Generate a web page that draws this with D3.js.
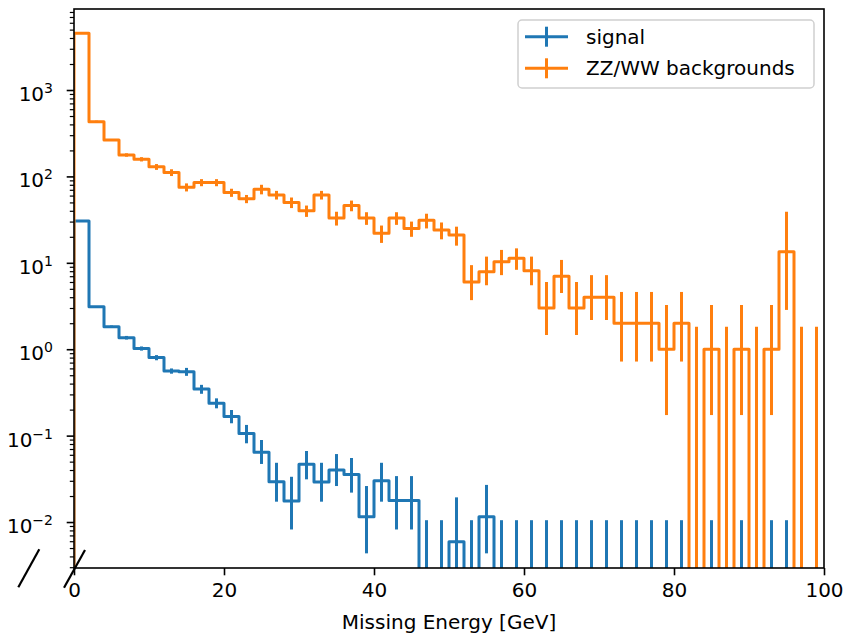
<!DOCTYPE html>
<html><head><meta charset="utf-8">
<script src="https://cdn.jsdelivr.net/npm/d3@7"></script>
<style>body{margin:0;background:#fff} text{font-family:"DejaVu Sans",sans-serif;fill:#000}</style>
</head><body><svg id="c" width="846" height="636"></svg>
<script>
// ---- data ----
const binEdges = [0,2,4,6,8,10,12,14,16,18,20,22,24,26,28,30,32,34,36,38,40,42,44,46,48,50,
  52,54,56,58,60,62,64,66,68,70,72,74,76,78,80,82,84,86,88,90,92,94,96,98,100];

const signal = [30.5,3.1,1.82,1.36,1.02,0.80,0.56,0.55,0.346,0.237,0.166,0.106,0.064,0.0292,0.0175,0.0466,
  0.029,0.040,0.0356,0.0115,0.030,0.0177,0.0177,0,0,0.0059,0,0.0115,0,0,
  0,0,0,0,0,0,0,0,0,0,0,0,0,0,0,0,0,0,0,0];
const signalLo = [29.9,3.05,1.76,1.295,0.964,0.745,0.521,0.492,0.305,0.207,0.139,0.0815,0.047,0.0172,0.0082,0.0312,
  0.0172,0.0261,0.0219,0.00434,0.0172,0.0082,0.0082,0,0,0,0,0.00434,0,0,
  0,0,0,0,0,0,0,0,0,0,0,0,0,0,0,0,0,0,0,0];
const signalHi = [31.1,3.15,1.88,1.425,1.076,0.855,0.599,0.608,0.387,0.270,0.198,0.133,0.089,0.0485,0.0334,0.0664,
  0.0485,0.0612,0.0551,0.0261,0.0485,0.034,0.034,0.0105,0.0105,0.0193,0.0105,0.0269,0.0105,0.0105,
  0.0105,0.0105,0.0105,0.0105,0.0105,0.0105,0.0105,0.0105,0.0105,0.0105,0.0105,0.0105,0.0105,0.0105,0.0105,0.0105,0.0105,0.0105,0.0105,0.0105];

const background = [4530,430,264,177,158,129,111,75,85,85,65,55,71,61,50,40,
  61,33,46,33,22,33,25,31,24,21,6.0,7.9,10.3,11.3,8.1,
  3.0,7.0,3.0,4.0,4.0,2.0,2.0,2.0,1.0,2.0,0,1.0,0,1.0,0,1.0,13.4,0,0];
const backgroundLo = [4460,418,257,169,149,119,101,67,77,77,58,49,62,54,43,34,
  54,27,39.5,27.5,17,27.5,20,25,18.7,15.8,3.7,5.5,7.2,8.3,5.5,
  1.46,4.47,1.46,2.18,2.18,0.72,0.72,0.72,0.173,0.72,0,0.173,0,0.173,0,0.173,2.85,0,0];
const backgroundHi = [4600,442,271,185,167,139,121,83,93,93,72,61,80,68,57,46,
  68,39,52.5,38.5,27,38.5,30,37,29.3,26.2,9.4,11.8,14.1,14.7,11.8,
  6.0,10.8,6.0,7.2,7.2,4.6,4.6,4.6,3.25,4.6,1.82,3.25,1.82,3.25,1.82,3.25,39,1.82,1.82];

const seriesNames = ["signal", "ZZ/WW backgrounds"];
const seriesColors = ["#1f77b4", "#ff7f0e"];
const xTicks = [0,20,40,60,80,100];
const yDecades = [-2,-1,0,1,2,3];
const xLabel = "Missing Energy [GeV]";

// ---- layout ----
const L = 74, R = 824, T = 9, B = 568;
const svg = d3.select("#c");
const x = d3.scaleLinear().domain([0,100]).range([L,R]);
const y = d3.scaleLog().domain([Math.pow(10,-2.532), Math.pow(10,3.9375)]).range([B,T]);
const yy = v => v > 0 ? y(v) : B + 40;

svg.append("defs").append("clipPath").attr("id","clip")
  .append("rect").attr("x",L).attr("y",T).attr("width",R-L).attr("height",B-T);

const plot = svg.append("g").attr("clip-path","url(#clip)");

function drawSeries(vals, lo, hi, color){
  const pts = [[binEdges[0], 0]];
  vals.forEach((v,i)=>{ pts.push([binEdges[i], v]); pts.push([binEdges[i+1], v]); });
  pts.push([binEdges[binEdges.length-1], 0]);
  const line = d3.line().x(d=>x(d[0])).y(d=>yy(d[1]));
  plot.append("path").attr("d", line(pts)).attr("fill","none")
    .attr("stroke",color).attr("stroke-width",3).attr("stroke-linejoin","round");
  const g = plot.append("g");
  vals.forEach((v,i)=>{
    if (!(hi[i] > 0)) return;
    const cx = x((binEdges[i]+binEdges[i+1])/2);
    g.append("line").attr("x1",cx).attr("x2",cx)
      .attr("y1", yy(lo[i])).attr("y2", y(hi[i]))
      .attr("stroke",color).attr("stroke-width",3);
  });
}
drawSeries(signal, signalLo, signalHi, seriesColors[0]);
drawSeries(background, backgroundLo, backgroundHi, seriesColors[1]);

// ---- axes ----
const xAxis = svg.append("g").attr("transform",`translate(0,${B})`)
  .call(d3.axisBottom(x).tickValues(xTicks).tickSize(7.3).tickPadding(7).tickFormat(d3.format("d")));
xAxis.select(".domain").remove();
xAxis.selectAll("line").attr("stroke","#000").attr("stroke-width",1.6);
xAxis.selectAll("text").attr("font-size",20).attr("font-family","DejaVu Sans").attr("fill","#000");

const majors = yDecades.map(d=>Math.pow(10,d));
const minors = [];
for (let d=-3; d<=3; d++) for (let m=2; m<=9; m++){ const v=m*Math.pow(10,d); if (v>=y.domain()[0] && v<=y.domain()[1]) minors.push(v); }
const yMinor = svg.append("g").attr("transform",`translate(${L},0)`)
  .call(d3.axisLeft(y).tickValues(minors).tickSize(4.2).tickFormat(""));
yMinor.select(".domain").remove();
yMinor.selectAll("line").attr("stroke","#000").attr("stroke-width",1.2);
const yMajor = svg.append("g").attr("transform",`translate(${L},0)`)
  .call(d3.axisLeft(y).tickValues(majors).tickSize(7.3).tickFormat(""));
yMajor.select(".domain").remove();
yMajor.selectAll("line").attr("stroke","#000").attr("stroke-width",1.6);

yDecades.forEach(d=>{
  const ty = y(Math.pow(10,d));
  const t = svg.append("text").attr("x", 53).attr("y", ty+11).attr("text-anchor","end")
    .attr("font-size",20);
  t.append("tspan").text("10");
  t.append("tspan").attr("dy",-8).attr("font-size",14).text(d<0 ? "\u2212"+(-d) : String(d));
});

// frame
svg.append("rect").attr("x",L).attr("y",T).attr("width",R-L).attr("height",B-T)
  .attr("fill","none").attr("stroke","#000").attr("stroke-width",1.6);

// break marks
[[18.3,587.3,39.3,549.3],[64,587.7,85,550]].forEach(s=>{
  svg.append("line").attr("x1",s[0]).attr("y1",s[1]).attr("x2",s[2]).attr("y2",s[3])
    .attr("stroke","#000").attr("stroke-width",2.2);
});

// x label
svg.append("text").attr("x",(L+R)/2).attr("y",629).attr("text-anchor","middle")
  .attr("font-size",20).text(xLabel);

// ---- legend ----
const lg = svg.append("g");
lg.append("rect").attr("x",518).attr("y",20).attr("width",296).attr("height",68).attr("rx",4)
  .attr("fill","#fff").attr("fill-opacity",0.8).attr("stroke","#d0d0d0").attr("stroke-width",1.5);
seriesNames.forEach((name,i)=>{
  const cy = 36.7 + i*31.6;
  lg.append("line").attr("x1",525).attr("x2",568).attr("y1",cy).attr("y2",cy)
    .attr("stroke",seriesColors[i]).attr("stroke-width",3);
  lg.append("line").attr("x1",546.5).attr("x2",546.5).attr("y1",cy-10).attr("y2",cy+10)
    .attr("stroke",seriesColors[i]).attr("stroke-width",3);
  lg.append("text").attr("x",586).attr("y",cy+7).attr("font-size",20).text(name);
});
</script></body></html>
